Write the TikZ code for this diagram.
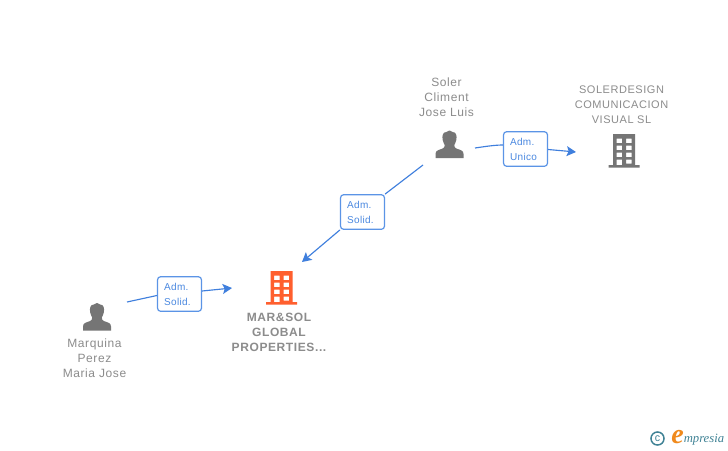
\documentclass[tikz,border=0pt]{standalone}
\usepackage{fontspec}
\setmainfont{Liberation Sans}
\newfontfamily\lblfont[LetterSpace=5]{Liberation Sans}
\newfontfamily\boxfont[LetterSpace=3]{Liberation Sans}
\newfontfamily\logofont{Liberation Serif}
\usetikzlibrary{arrows.meta,positioning}
\definecolor{txtgray}{HTML}{8C8C8C}
\definecolor{icongray}{HTML}{757575}
\definecolor{linkblue}{HTML}{3F7FDD}
\definecolor{boxblue}{HTML}{5B94E6}
\definecolor{boxtext}{HTML}{4A88E0}
\definecolor{orangeicon}{HTML}{FF5F2E}
\definecolor{logoteal}{HTML}{3F8295}
\definecolor{logoorange}{HTML}{F08A1D}
\tikzset{
  lbl/.style={font=\lblfont\fontsize{9}{11.25}\selectfont,text=txtgray,align=center,inner sep=0pt},
  lblcaps/.style={lbl,font=\lblfont\fontsize{8.25}{11.25}\selectfont},
  lblbold/.style={lbl,font=\lblfont\bfseries\fontsize{9}{11.25}\selectfont},
  rolebox/.style={draw=boxblue,line width=0.9pt,rounded corners=2.4pt,fill=white,text=boxtext,
    minimum width=33pt,minimum height=26pt,inner sep=0pt,align=left,
    font=\boxfont\fontsize{7.5}{11.25}\selectfont},
  conn/.style={draw=linkblue,line width=0.85pt},
  tip/.style={-{Stealth[length=7pt,width=7.5pt,inset=1.5pt]}},
  person/.pic={
    \fill[pic actions] (-3.2,-12) .. controls (-6.8,-12) and (-7.6,-8) .. (-6.8,-4)
      .. controls (-6.4,-1.5) and (-5.2,0) .. (-4.8,1) .. controls (-4.6,3) and (-5.5,3.8) .. (-7,4.6)
      .. controls (-11,6) and (-14,6.5) .. (-14,10) -- (-14,14) -- (14,14) -- (14,10)
      .. controls (14,6.5) and (11,6) .. (7,4.6) .. controls (5.5,3.8) and (4.6,3) .. (4.8,1)
      .. controls (5.2,0) and (6.4,-1.5) .. (6.8,-4) .. controls (7.6,-8) and (6.8,-12) .. (3.2,-12)
      .. controls (1.5,-14) and (-1.5,-14) .. (-3.2,-12) -- cycle;
  },
  building/.pic={
    \fill[pic actions,even odd rule] (-11,-17) -- (11,-17) -- (11,14) -- (15.5,14) -- (15.5,16.5) -- (-15.5,16.5) -- (-15.5,14) -- (-11,14) -- cycle
      (-7.5,-12.5) rectangle (-2,-8) (2,-12.5) rectangle (7.5,-8)
      (-7.5,-5.5) rectangle (-2,-1) (2,-5.5) rectangle (7.5,-1)
      (-7.5,1.5) rectangle (-2,6) (2,1.5) rectangle (7.5,6)
      (-7.5,8.5) rectangle (-2,14) (2,8.5) rectangle (7.5,12.5);
  }
}
\begin{document}
\begin{tikzpicture}[x=0.75pt,y=-0.75pt]
\useasboundingbox (0,0) rectangle (728,450);
\fill[white] (0,0) rectangle (728,450);

% icons (as named nodes)
\node[inner sep=0pt,minimum size=1pt] (p1) at (97,316.5) {};
\node[inner sep=0pt,minimum size=1pt] (p2) at (449.5,144) {};
\node[inner sep=0pt,minimum size=1pt] (b1) at (281.5,288) {};
\node[inner sep=0pt,minimum size=1pt] (b2) at (624,151) {};
\path[fill=icongray] (p1) pic {person};
\path[fill=icongray] (p2) pic {person};
\path[fill=orangeicon] (b1) pic {building};
\path[fill=icongray] (b2) pic {building};

% texts
\node[lbl] (t1) at (94.5,358.5) {Marquina\\Perez\\Maria Jose};
\node[lbl] (t2) at (446.5,97) {Soler\\Climent\\Jose Luis};
\node[lblbold] (t3) at (279,332.5) {MAR\&SOL\\GLOBAL\\PROPERTIES...};
\node[lblcaps] (t4) at (621.5,105) {SOLERDESIGN\\COMUNICACION\\VISUAL SL};

% role boxes
\node[rolebox] (r1) at (179.5,294) {\hspace*{-3pt}Adm.\\\hspace*{-3pt}Solid.};
\node[rolebox] (r2) at (362.5,212) {\hspace*{-3pt}Adm.\\\hspace*{-3pt}Solid.};
\node[rolebox] (r3) at (525.5,149) {\hspace*{-3pt}Adm.\\\hspace*{-3pt}Unico};

% free ends
\coordinate (s1) at (127,302);
\coordinate (e1) at (232,288);
\coordinate (s2) at (423,165);
\coordinate (e2) at (302,262);
\coordinate (s3) at (475,148);
\coordinate (e3) at (576,152);

% connectors
\draw[conn] (s1) -- (r1.west |- 0,295.5);
\draw[conn,tip] (r1.east |- 0,291) -- (e1);
\draw[conn] (s2) -- (r2.north east);
\draw[conn,tip] (r2.south west) -- (e2);
\draw[conn] (s3) .. controls (485,146.5) and (495,145) .. (r3.west |- 0,145);
\draw[conn,tip] (r3.east |- 0,149.5) -- (e3);

% logo
\node[circle,draw=logoteal,line width=1.1pt,minimum size=9.8pt,inner sep=0pt,text=logoteal,
  font=\fontsize{8}{8}\selectfont] (c) at (657.5,438.5) {c};
\node[inner sep=0pt,text=logoorange,font=\logofont\itshape\bfseries\fontsize{21}{21}\selectfont] (le) at (677.5,437) {e};
\node[inner sep=0pt,text=logoteal,anchor=west,font=\logofont\itshape\fontsize{9.5}{10}\selectfont] (lw) at (683.5,439.5) {mpresia};
\end{tikzpicture}
\end{document}
